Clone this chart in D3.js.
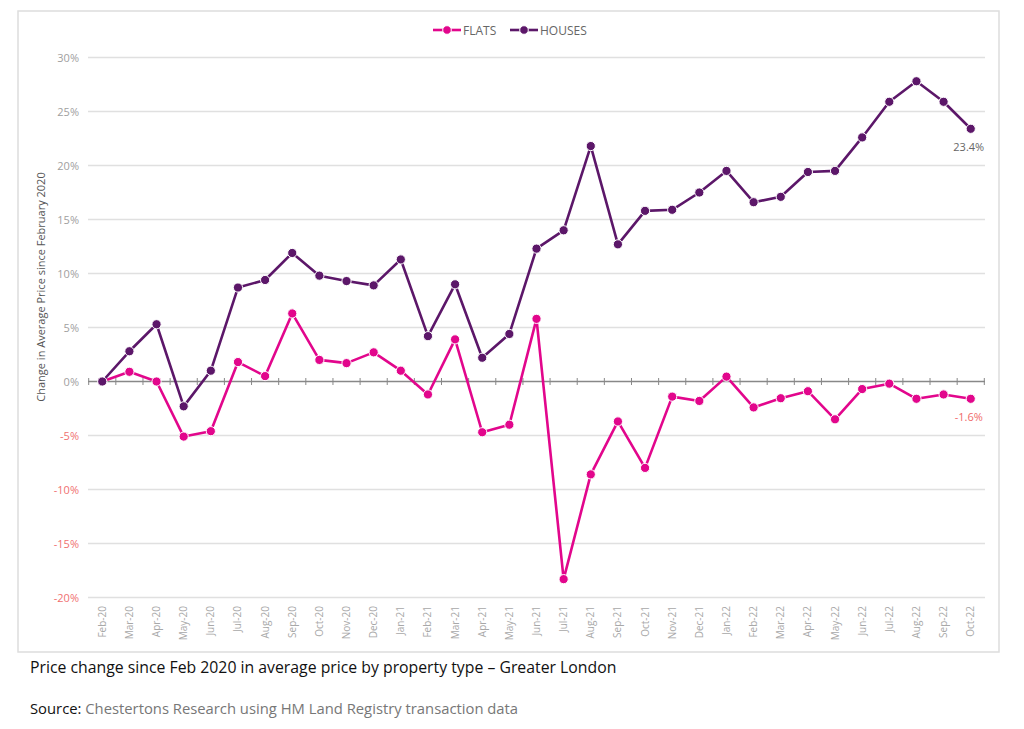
<!DOCTYPE html>
<html>
<head>
<meta charset="utf-8">
<script src="https://cdn.jsdelivr.net/npm/d3@7"></script>
<style>
  body { margin: 0; background: #fff; }
  text { font-family: "Open Sans", sans-serif; }
</style>
</head>
<body>
<div id="chart"></div>
<script>
var months = ["Feb-20","Mar-20","Apr-20","May-20","Jun-20","Jul-20","Aug-20","Sep-20","Oct-20","Nov-20","Dec-20",
  "Jan-21","Feb-21","Mar-21","Apr-21","May-21","Jun-21","Jul-21","Aug-21","Sep-21","Oct-21","Nov-21","Dec-21",
  "Jan-22","Feb-22","Mar-22","Apr-22","May-22","Jun-22","Jul-22","Aug-22","Sep-22","Oct-22"];

var flats = [0, 0.9, 0, -5.1, -4.6, 1.8, 0.5, 6.3, 2.0, 1.7, 2.7,
  1.0, -1.2, 3.9, -4.7, -4.0, 5.8, -18.3, -8.6, -3.7, -8.0, -1.4, -1.8,
  0.45, -2.4, -1.55, -0.9, -3.5, -0.7, -0.2, -1.6, -1.2, -1.6];

var houses = [0, 2.8, 5.3, -2.3, 1.0, 8.7, 9.4, 11.9, 9.8, 9.3, 8.9,
  11.3, 4.2, 9.0, 2.2, 4.4, 12.3, 14.0, 21.8, 12.7, 15.8, 15.9, 17.5,
  19.5, 16.6, 17.1, 19.4, 19.5, 22.6, 25.9, 27.8, 25.9, 23.4];

var yTicks = [-20, -15, -10, -5, 0, 5, 10, 15, 20, 25, 30];

var series = [
  {name: "FLATS", values: flats, color: "#e2068c", last: "-1.6%", lastColor: "#f06a6a"},
  {name: "HOUSES", values: houses, color: "#5c1769", last: "23.4%", lastColor: "#666"}
];

var W = 1024, H = 729;
var svg = d3.select("#chart").append("svg").attr("width", W).attr("height", H);

// frame
svg.append("rect")
  .attr("x", 18).attr("y", 11).attr("width", 981).attr("height", 641)
  .attr("fill", "none").attr("stroke", "#ddd").attr("stroke-width", 1.5);

var x = d3.scaleBand().domain(months).range([88.7, 984.3]);
var y = d3.scaleLinear().domain([-20, 30]).range([597.5, 57.5]);
function cx(m) { return x(m) + x.bandwidth() / 2; }

// gridlines
svg.append("g").selectAll("line")
  .data(yTicks.filter(function(d) { return d !== 0; }))
  .enter().append("line")
  .attr("x1", 88).attr("x2", 985)
  .attr("y1", function(d) { return y(d); }).attr("y2", function(d) { return y(d); })
  .attr("stroke", "#e0e0e0").attr("stroke-width", 1.5);

// y labels
svg.append("g").selectAll("text")
  .data(yTicks).enter().append("text")
  .attr("x", 79).attr("y", function(d) { return y(d) + 4; })
  .attr("text-anchor", "end")
  .attr("font-size", 11)
  .attr("fill", function(d) { return d < 0 ? "#f07070" : "#a0a0a0"; })
  .text(function(d) { return d + "%"; });

// zero axis with ticks at band edges
var zero = svg.append("g");
zero.append("line")
  .attr("x1", 88).attr("x2", 985).attr("y1", y(0)).attr("y2", y(0))
  .attr("stroke", "#888").attr("stroke-width", 1.5);
zero.selectAll(".tk")
  .data(months.concat(["end"])).enter().append("line")
  .attr("class", "tk")
  .attr("x1", function(d, i) { return x.range()[0] + i * x.step(); })
  .attr("x2", function(d, i) { return x.range()[0] + i * x.step(); })
  .attr("y1", y(0) - 3.5).attr("y2", y(0) + 3.5)
  .attr("stroke", "#888").attr("stroke-width", 1);

// x labels
svg.append("g").selectAll("text")
  .data(months).enter().append("text")
  .attr("transform", function(d) { return "translate(" + (cx(d) + 3.5) + ",606) rotate(-90)"; })
  .attr("text-anchor", "end")
  .attr("font-size", 10)
  .attr("fill", "#a8a8a8")
  .text(function(d) { return d; });

// y title
svg.append("text")
  .attr("transform", "translate(45,287) rotate(-90)")
  .attr("text-anchor", "middle")
  .attr("font-size", 11)
  .attr("fill", "#555")
  .text("Change in Average Price since February 2020");

// lines
var line = d3.line()
  .x(function(d, i) { return cx(months[i]); })
  .y(function(d) { return y(d); });

series.forEach(function(s) {
  var g = svg.append("g");
  g.append("path")
    .attr("d", line(s.values))
    .attr("fill", "none")
    .attr("stroke", s.color)
    .attr("stroke-width", 2.6)
    .attr("stroke-linejoin", "round");
  g.selectAll("circle")
    .data(s.values).enter().append("circle")
    .attr("cx", function(d, i) { return cx(months[i]); })
    .attr("cy", function(d) { return y(d); })
    .attr("r", 4.6)
    .attr("fill", s.color)
    .attr("stroke", "#fff").attr("stroke-width", 1);
  var lv = s.values[s.values.length - 1];
  g.append("text")
    .attr("x", cx(months[months.length - 1]) - 2)
    .attr("y", y(lv) + 22)
    .attr("text-anchor", "middle")
    .attr("font-size", 11)
    .attr("fill", s.lastColor)
    .text(s.last);
});

// legend
var legX = [433, 510];
series.forEach(function(s, i) {
  var lg = svg.append("g").attr("transform", "translate(" + legX[i] + ",30)");
  lg.append("line").attr("x1", 0).attr("x2", 28).attr("y1", 0).attr("y2", 0)
    .attr("stroke", s.color).attr("stroke-width", 2.6);
  lg.append("circle").attr("cx", 14).attr("cy", 0).attr("r", 4.3)
    .attr("fill", s.color).attr("stroke", "#fff").attr("stroke-width", 1);
  lg.append("text").attr("x", 30).attr("y", 4.5)
    .attr("font-size", 12).attr("fill", "#666").text(s.name);
});

// captions
svg.append("text")
  .attr("x", 30).attr("y", 673)
  .attr("font-size", 15.8).attr("fill", "#111")
  .text("Price change since Feb 2020 in average price by property type \u2013 Greater London");

var src = svg.append("text")
  .attr("x", 30).attr("y", 714)
  .attr("font-size", 14.8);
src.append("tspan").attr("fill", "#111").text("Source: ");
src.append("tspan").attr("fill", "#777").text("Chestertons Research using HM Land Registry transaction data");
</script>
</body>
</html>
